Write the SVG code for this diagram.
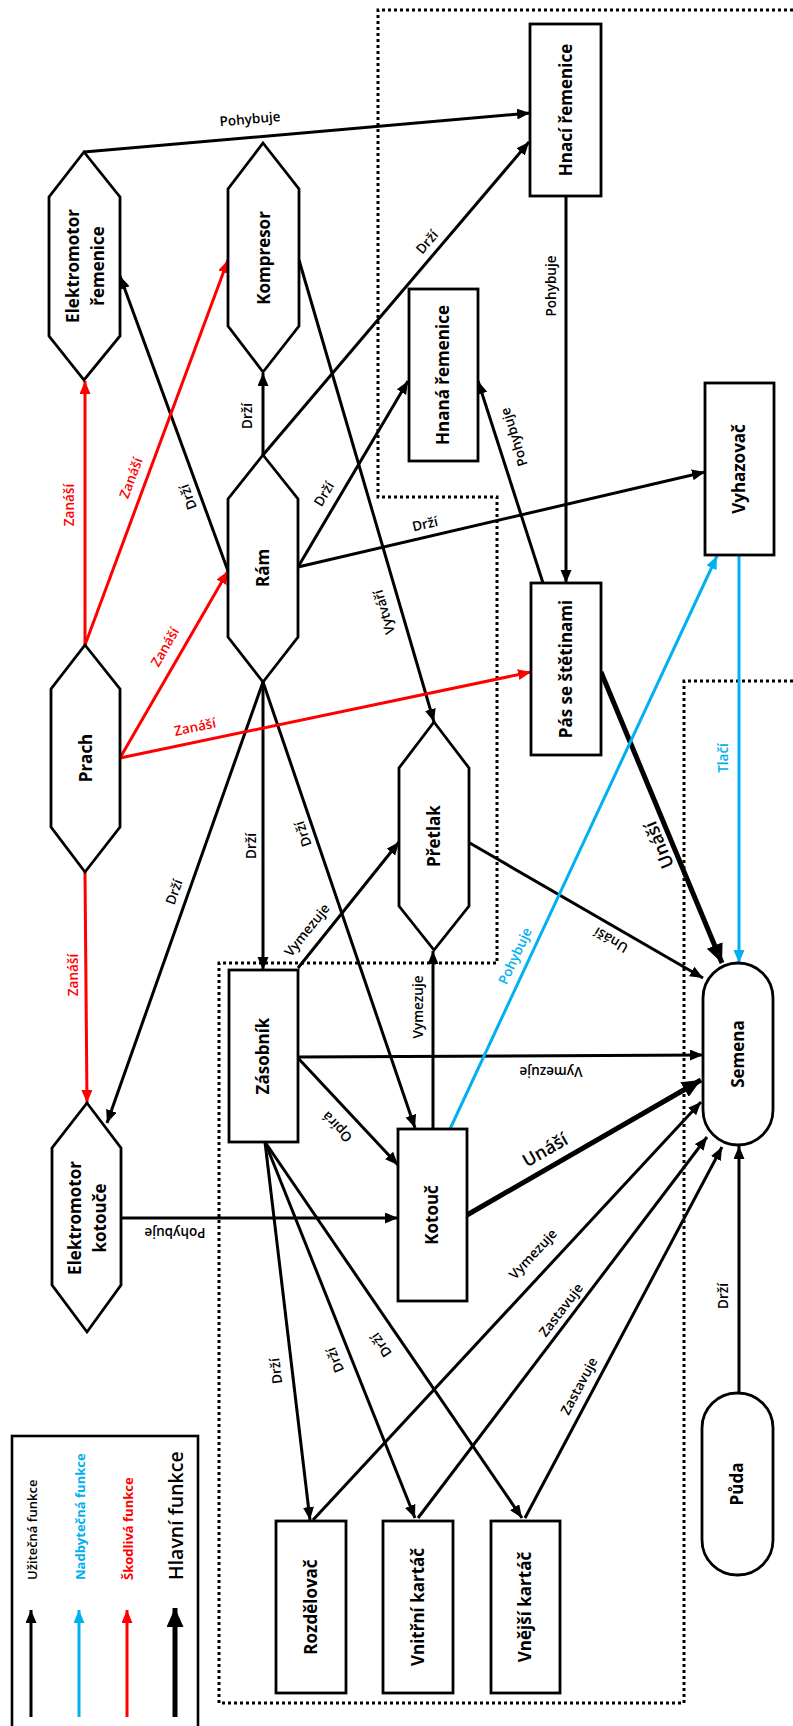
<svg xmlns="http://www.w3.org/2000/svg" width="793" height="1726" viewBox="0 0 793 1726">
<style>
.n{fill:#fff;stroke:#000;stroke-width:2.8}
.nt{font-family:"Open Sans","Liberation Sans",sans-serif;font-weight:700;font-size:17px;text-anchor:middle;fill:#000}
.c{fill:none;stroke:#000;stroke-width:3;marker-end:url(#ak)}
.r{stroke:#f00;marker-end:url(#ar)}
.b{stroke:#00b0f0;marker-end:url(#ab)}
.h{stroke-width:5;marker-end:url(#ah)}
.l{font-family:"Open Sans","Liberation Sans",sans-serif;font-weight:600;font-size:13.5px;text-anchor:middle;fill:#000}
.lr{fill:#f00}
.lb{fill:#00b0f0}
.lh{font-size:18px}
.dot{fill:none;stroke:#000;stroke-width:3;stroke-dasharray:3 3}
.lg{font-family:"Open Sans","Liberation Sans",sans-serif;font-weight:600;font-size:13px;fill:#000}
.lg2{fill:#00b0f0;font-weight:700}
.lg3{fill:#f00;font-weight:700}
.lg4{font-size:19.5px}
</style>
<defs>
<marker id="ak" markerUnits="userSpaceOnUse" markerWidth="14" markerHeight="12" refX="13" refY="5.5" orient="auto"><path d="M0,0 L13,5.5 L0,11 z" fill="#000"/></marker>
<marker id="ar" markerUnits="userSpaceOnUse" markerWidth="14" markerHeight="12" refX="13" refY="5.5" orient="auto"><path d="M0,0 L13,5.5 L0,11 z" fill="#f00"/></marker>
<marker id="ab" markerUnits="userSpaceOnUse" markerWidth="14" markerHeight="12" refX="13" refY="5.5" orient="auto"><path d="M0,0 L13,5.5 L0,11 z" fill="#00b0f0"/></marker>
<marker id="ah" markerUnits="userSpaceOnUse" markerWidth="20" markerHeight="18" refX="19" refY="8.5" orient="auto"><path d="M0,0 L19,8.5 L0,17 z" fill="#000"/></marker>
</defs>
<rect width="793" height="1726" fill="#fff"/>

<g id="boundaries">
<polyline class="dot" points="793,681 684,681 684,1703 219,1703 219,963 497,963 497,497 378,497 378,10 793,10"/>
</g>

<g id="connectors">
<path class="c" d="M84,152 L530,113"/>
<path class="c" d="M228,571 L120,276"/>
<path class="c" d="M263,455 L263,373"/>
<path class="c" d="M263,455 L529,142"/>
<path class="c" d="M298,567 L408,381"/>
<path class="c" d="M298,567 L705,472"/>
<path class="c" d="M299,260 L434,722"/>
<path class="c" d="M566,196 L566,583"/>
<path class="c" d="M543,583 L478,381"/>
<path class="c" d="M263,682 L263,970"/>
<path class="c" d="M263,682 L107,1123"/>
<path class="c" d="M263,682 L415,1128"/>
<path class="c" d="M298,968 L399,842"/>
<path class="c" d="M298,1057 L703,1055"/>
<path class="c" d="M433,1129 L433,951"/>
<path class="c" d="M298,1058 L398,1165"/>
<path class="c" d="M121,1218 L398,1218"/>
<path class="c" d="M468,842 L703,978"/>
<path class="c" d="M313,1520 L701,1102"/>
<path class="c" d="M418,1518 L707,1137"/>
<path class="c" d="M525,1518 L722,1147"/>
<path class="c" d="M739,1393 L739,1146"/>
<path class="c" d="M265,1142 L310,1520"/>
<path class="c" d="M265,1142 L415,1518"/>
<path class="c" d="M265,1142 L522,1518"/>
<path class="c h" d="M601,672 L722,963"/>
<path class="c h" d="M467,1215 L701,1080"/>
<path class="c r" d="M85,645 L85,381"/>
<path class="c r" d="M85,645 L228,260"/>
<path class="c r" d="M120,758 L228,571"/>
<path class="c r" d="M120,758 L531,672"/>
<path class="c r" d="M85,872 L87,1103"/>
<path class="c b" d="M450,1129 L717,556"/>
<path class="c b" d="M739,555 L739,963"/>

<text class="l" transform="translate(250,119) rotate(-5)" dy="0.35em">Pohybuje</text>
<text class="l" transform="translate(188,497) rotate(-110.2)" dy="0.35em">Drží</text>
<text class="l" transform="translate(247,416) rotate(-90)" dy="0.35em">Drží</text>
<text class="l" transform="translate(427,242) rotate(-49.6)" dy="0.35em">Drží</text>
<text class="l" transform="translate(324,494) rotate(-59.4)" dy="0.35em">Drží</text>
<text class="l" transform="translate(425,524) rotate(-13.1)" dy="0.35em">Drží</text>
<text class="l" transform="translate(384,612) rotate(-106.3)" dy="0.35em">Vytváří</text>
<text class="l" transform="translate(551,286) rotate(-90)" dy="0.35em">Pohybuje</text>
<text class="l" transform="translate(514,437) rotate(-107.8)" dy="0.35em">Pohybuje</text>
<text class="l" transform="translate(251,846) rotate(-90)" dy="0.35em">Drží</text>
<text class="l" transform="translate(174,892) rotate(-70.5)" dy="0.35em">Drží</text>
<text class="l" transform="translate(303,834) rotate(-108.9)" dy="0.35em">Drží</text>
<text class="l" transform="translate(307,930) rotate(-51.3)" dy="0.35em">Vymezuje</text>
<text class="l" transform="translate(551,1072) rotate(180)" dy="0.35em">Vymezuje</text>
<text class="l" transform="translate(418,1007) rotate(-90)" dy="0.35em">Vymezuje</text>
<text class="l" transform="translate(337,1127) rotate(-133.1)" dy="0.35em">Opírá</text>
<text class="l" transform="translate(175,1233) rotate(180)" dy="0.35em">Pohybuje</text>
<text class="l" transform="translate(611,940) rotate(-149.9)" dy="0.35em">Unáší</text>
<text class="l" transform="translate(533,1254) rotate(-47.1)" dy="0.35em">Vymezuje</text>
<text class="l" transform="translate(561,1310) rotate(-52.8)" dy="0.35em">Zastavuje</text>
<text class="l" transform="translate(579,1386) rotate(-62)" dy="0.35em">Zastavuje</text>
<text class="l" transform="translate(723,1296) rotate(-90)" dy="0.35em">Drží</text>
<text class="l" transform="translate(276,1371) rotate(-96.8)" dy="0.35em">Drží</text>
<text class="l" transform="translate(335,1360) rotate(-111.8)" dy="0.35em">Drží</text>
<text class="l" transform="translate(381,1345) rotate(-124.4)" dy="0.35em">Drží</text>
<text class="l lh" transform="translate(659,845) rotate(-112.6)" dy="0.35em">Unáší</text>
<text class="l lh" transform="translate(545,1150) rotate(-30.1)" dy="0.35em">Unáší</text>
<text class="l lr" transform="translate(69,505) rotate(-90)" dy="0.35em">Zanáší</text>
<text class="l lr" transform="translate(131,478) rotate(-69.6)" dy="0.35em">Zanáší</text>
<text class="l lr" transform="translate(165,647) rotate(-60)" dy="0.35em">Zanáší</text>
<text class="l lr" transform="translate(195,727) rotate(-11.8)" dy="0.35em">Zanáší</text>
<text class="l lr" transform="translate(73,975) rotate(-90)" dy="0.35em">Zanáší</text>
<text class="l lb" transform="translate(515,956) rotate(-65.1)" dy="0.35em">Pohybuje</text>
<text class="l lb" transform="translate(723,758) rotate(-90)" dy="0.35em">Tlačí</text>
</g>

<g id="elektromotor-remenice">
<polygon class="n" points="84,152 120,197 120,336 84,380 49,336 49,197"/>
<text class="nt" transform="translate(85,266) rotate(-90)"><tspan x="0" y="-12" dy="0.35em">Elektromotor</tspan><tspan x="0" y="13" dy="0.35em">řemenice</tspan></text>
</g>
<g id="kompresor">
<polygon class="n" points="263,143 299,189 299,326 263,372 228,326 228,189"/>
<text class="nt" transform="translate(264,258) rotate(-90)" dy="0.35em">Kompresor</text>
</g>
<g id="ram">
<polygon class="n" points="263,455 298,499 298,637 263,682 228,637 228,499"/>
<text class="nt" transform="translate(263,568) rotate(-90)" dy="0.35em">Rám</text>
</g>
<g id="prach">
<polygon class="n" points="85,645 120,689 120,827 85,872 51,827 51,689"/>
<text class="nt" transform="translate(86,758) rotate(-90)" dy="0.35em">Prach</text>
</g>
<g id="pretlak">
<polygon class="n" points="434,722 469,768 469,906 434,950 399,906 399,768"/>
<text class="nt" transform="translate(434,836) rotate(-90)" dy="0.35em">Přetlak</text>
</g>
<g id="elektromotor-kotouce">
<polygon class="n" points="87,1103 121,1148 121,1285 87,1332 52,1285 52,1148"/>
<text class="nt" transform="translate(87,1218) rotate(-90)"><tspan x="0" y="-12" dy="0.35em">Elektromotor</tspan><tspan x="0" y="13" dy="0.35em">kotouče</tspan></text>
</g>
<g id="hnaci-remenice">
<rect class="n" x="530" y="24" width="71" height="172"/>
<text class="nt" transform="translate(566,110) rotate(-90)" dy="0.35em">Hnací řemenice</text>
</g>
<g id="hnana-remenice">
<rect class="n" x="409" y="289" width="69" height="172"/>
<text class="nt" transform="translate(443,375) rotate(-90)" dy="0.35em">Hnaná řemenice</text>
</g>
<g id="vyhazovac">
<rect class="n" x="705" y="383" width="69" height="172"/>
<text class="nt" transform="translate(739,469) rotate(-90)" dy="0.35em">Vyhazovač</text>
</g>
<g id="pas-se-stetinami">
<rect class="n" x="531" y="583" width="70" height="172"/>
<text class="nt" transform="translate(566,669) rotate(-90)" dy="0.35em">Pás se štětinami</text>
</g>
<g id="zasobnik">
<rect class="n" x="229" y="970" width="69" height="172"/>
<text class="nt" transform="translate(263,1056) rotate(-90)" dy="0.35em">Zásobník</text>
</g>
<g id="kotouc">
<rect class="n" x="398" y="1129" width="69" height="172"/>
<text class="nt" transform="translate(432,1215) rotate(-90)" dy="0.35em">Kotouč</text>
</g>
<g id="semena">
<rect class="n" x="703" y="963" width="70" height="182" rx="35" ry="35"/>
<text class="nt" transform="translate(738,1054) rotate(-90)" dy="0.35em">Semena</text>
</g>
<g id="rozdelovac">
<rect class="n" x="276" y="1521" width="70" height="172"/>
<text class="nt" transform="translate(311,1607) rotate(-90)" dy="0.35em">Rozdělovač</text>
</g>
<g id="vnitrni-kartac">
<rect class="n" x="383" y="1521" width="70" height="172"/>
<text class="nt" transform="translate(418,1607) rotate(-90)" dy="0.35em">Vnitřní kartáč</text>
</g>
<g id="vnejsi-kartac">
<rect class="n" x="491" y="1521" width="69" height="172"/>
<text class="nt" transform="translate(525,1607) rotate(-90)" dy="0.35em">Vnější kartáč</text>
</g>
<g id="puda">
<rect class="n" x="702" y="1393" width="71" height="182" rx="35" ry="35"/>
<text class="nt" transform="translate(737,1484) rotate(-90)" dy="0.35em">Půda</text>
</g>

<g id="legend">
<rect x="12" y="1436" width="186" height="300" fill="#fff" stroke="#000" stroke-width="2.6"/>
<path class="c" d="M31,1717 L31,1610"/>
<path class="c b" d="M79,1717 L79,1610"/>
<path class="c r" d="M127,1717 L127,1610"/>
<path class="c h" d="M175,1717 L175,1608"/>
<text class="lg" transform="translate(37,1580) rotate(-90)">Užitečná funkce</text>
<text class="lg lg2" transform="translate(85,1580) rotate(-90)">Nadbytečná funkce</text>
<text class="lg lg3" transform="translate(133,1580) rotate(-90)">Škodlivá funkce</text>
<text class="lg lg4" transform="translate(183,1580) rotate(-90)">Hlavní funkce</text>
</g>
</svg>
